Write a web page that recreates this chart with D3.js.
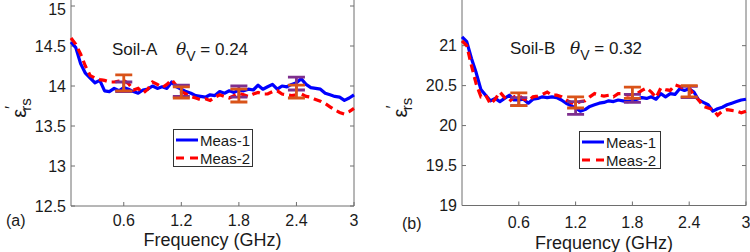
<!DOCTYPE html>
<html>
<head>
<meta charset="utf-8">
<script src="https://cdn.jsdelivr.net/npm/d3@7/dist/d3.min.js"></script>
<style>
  body { margin: 0; background: #fff; }
  svg { display: block; }
  text { font-family: "Liberation Sans", Arial, sans-serif; fill: #1a1a1a; }
</style>
</head>
<body>
<div id="chart"></div>
<script>
// frequency grid (GHz)
var freqB = [0, 0.05, 0.1, 0.15, 0.2, 0.25, 0.3, 0.35, 0.4, 0.45, 0.5, 0.55, 0.6, 0.65, 0.7, 0.75, 0.8, 0.85, 0.9, 0.95,
  1, 1.05, 1.1, 1.15, 1.2, 1.25, 1.3, 1.35, 1.4, 1.45, 1.5, 1.55, 1.6, 1.65, 1.7, 1.75, 1.8, 1.85, 1.9, 1.95,
  2, 2.05, 2.1, 2.15, 2.2, 2.25, 2.3, 2.35, 2.4, 2.45, 2.5, 2.55, 2.6, 2.65, 2.7, 2.75, 2.8, 2.85, 2.9, 2.95, 3];
var freqA = freqB.slice(1);

// Soil-A
var meas1A = [14.55, 14.48, 14.28, 14.16, 14.10, 14.04, 14.07, 13.94, 13.93, 13.97, 13.94, 13.98, 13.96, 13.93, 13.91, 13.95, 13.96, 14.00, 13.97, 13.99,
  13.97, 14.05, 13.99, 13.96, 13.93, 13.91, 13.88, 13.87, 13.86, 13.89, 13.88, 13.93, 13.91, 13.94, 13.92, 13.95, 13.94, 13.96, 13.95, 14.01,
  13.96, 13.99, 14.02, 13.96, 14.00, 13.99, 14.02, 14.04, 14.09, 14.02, 13.98, 13.97, 13.96, 13.91, 13.89, 13.87, 13.86, 13.82, 13.85, 13.89];
var meas2A = [14.60, 14.52, 14.40, 14.25, 14.13, 14.10, 14.08, 14.07, 14.05, 14.05, 14.06, 14.07, 14.03, 13.95, 13.97, 13.91, 13.96, 14.05, 14.02, 13.98,
  14.02, 14.08, 14.00, 13.93, 13.90, 13.87, 13.85, 13.83, 13.84, 13.82, 13.86, 13.89, 13.87, 13.85, 13.88, 13.91, 13.89, 13.87, 13.90, 13.92,
  13.90, 13.90, 13.93, 13.94, 13.90, 13.89, 13.88, 13.89, 13.90, 13.87, 13.86, 13.83, 13.81, 13.78, 13.74, 13.70, 13.67, 13.65, 13.68, 13.72];

// Soil-B
var meas1B = [21.11, 21.05, 20.84, 20.66, 20.45, 20.38, 20.31, 20.34, 20.30, 20.34, 20.38, 20.32, 20.32, 20.33, 20.28, 20.33, 20.34, 20.36, 20.35, 20.36,
  20.35, 20.32, 20.28, 20.25, 20.22, 20.18, 20.20, 20.24, 20.26, 20.28, 20.29, 20.31, 20.30, 20.32, 20.31, 20.30, 20.31, 20.33, 20.35, 20.34,
  20.36, 20.33, 20.40, 20.36, 20.40, 20.39, 20.46, 20.44, 20.46, 20.42, 20.32, 20.29, 20.26, 20.18, 20.21, 20.23, 20.26, 20.28, 20.30, 20.32, 20.33];
var meas2B = [21.06, 21.00, 20.75, 20.52, 20.36, 20.38, 20.27, 20.33, 20.42, 20.35, 20.30, 20.36, 20.38, 20.33, 20.31, 20.36, 20.37, 20.39, 20.42, 20.38,
  20.38, 20.36, 20.32, 20.29, 20.27, 20.30, 20.31, 20.36, 20.40, 20.38, 20.37, 20.38, 20.36, 20.40, 20.40, 20.38, 20.39, 20.40, 20.44, 20.47,
  20.42, 20.35, 20.47, 20.45, 20.44, 20.51, 20.49, 20.46, 20.47, 20.38, 20.32, 20.24, 20.22, 20.20, 20.13, 20.18, 20.20, 20.19, 20.18, 20.16, 20.18];

// error bars: mean and half-width
var errFreq = [0.6, 1.2, 1.8, 2.4];
var errMean1A = [13.99, 13.94, 13.93, 14.03], errSize1A = [0.06, 0.07, 0.07, 0.08];
var errMean2A = [14.04, 13.92, 13.88, 13.93], errSize2A = [0.10, 0.07, 0.08, 0.08];
var errMean1B = [20.30, 20.22, 20.34, 20.42], errSize1B = [0.05, 0.08, 0.05, 0.07];
var errMean2B = [20.33, 20.29, 20.41, 20.43], errSize2B = [0.08, 0.07, 0.07, 0.07];

var xTicks = [0.6, 1.2, 1.8, 2.4, 3];
var yTicksA = [12.5, 13, 13.5, 14, 14.5, 15];
var yTicksB = [19, 19.5, 20, 20.5, 21];
var seriesNames = ['Meas-1', 'Meas-2'];

var W = 750, H = 252;
var svg = d3.select('#chart').append('svg').attr('width', W).attr('height', H);

var panels = [
  { left: 71, right: 354, top: 6, bottom: 206, xDom: [0.05, 3], yDom: [12.5, 15], yTicks: yTicksA,
    freq: freqA, m1: meas1A, m2: meas2A, e1: [errMean1A, errSize1A], e2: [errMean2A, errSize2A],
    soil: 'Soil-A', theta: '0.24', tag: '(a)', tagX: 6, soilX: 112, thetaX: 176, textY: 55,
    legX: 173, legY: 129, legW: 79, labelX: 19, dy: 0 },
  { left: 462, right: 746, top: 5.7, bottom: 205.5, xDom: [0, 3], yDom: [19, 21.5], yTicks: yTicksB,
    freq: freqB, m1: meas1B, m2: meas2B, e1: [errMean1B, errSize1B], e2: [errMean2B, errSize2B],
    soil: 'Soil-B', theta: '0.32', tag: '(b)', tagX: 402, soilX: 510, thetaX: 570, textY: 54,
    legX: 579, legY: 131, legW: 81, labelX: 400, dy: 2.5 }
];

panels.forEach(function(p) {
  var x = d3.scaleLinear().domain(p.xDom).range([p.left, p.right]);
  var y = d3.scaleLinear().domain(p.yDom).range([p.bottom, p.top]);
  var g = svg.append('g');
  var axisColor = '#6e6e6e';

  // box (top cut off by the crop)
  g.append('path')
    .attr('d', 'M' + p.left + ',0V' + p.bottom + 'H' + p.right + 'V0')
    .attr('fill', 'none').attr('stroke', axisColor).attr('stroke-width', 1);

  // ticks inside, on both sides
  p.yTicks.forEach(function(t) {
    g.append('line').attr('x1', p.left).attr('x2', p.left + 4).attr('y1', y(t)).attr('y2', y(t))
      .attr('stroke', axisColor);
    g.append('line').attr('x1', p.right).attr('x2', p.right - 4).attr('y1', y(t)).attr('y2', y(t))
      .attr('stroke', axisColor);
    g.append('text').attr('x', p.left - 5).attr('y', Math.max(y(t) + 5.8, 14.5))
      .attr('text-anchor', 'end').attr('font-size', '16px').text(t);
  });
  xTicks.forEach(function(t) {
    g.append('line').attr('x1', x(t)).attr('x2', x(t)).attr('y1', p.bottom).attr('y2', p.bottom - 4)
      .attr('stroke', axisColor);
    g.append('text').attr('x', x(t)).attr('y', p.bottom + 20 + p.dy)
      .attr('text-anchor', 'middle').attr('font-size', '16px').text(t);
  });

  // labels
  g.append('text').attr('x', (p.left + p.right) / 2).attr('y', 246 + p.dy)
    .attr('text-anchor', 'middle').attr('font-size', '18px').text('Frequency (GHz)');
  g.append('text').attr('x', p.tagX).attr('y', 226 + p.dy)
    .attr('font-size', '16px').text(p.tag);

  var yl = g.append('text')
    .attr('transform', 'translate(' + (p.labelX + 7) + ',' + ((p.top + p.bottom) / 2 + 2) + ') rotate(-90)')
    .attr('text-anchor', 'middle').attr('font-size', '20px');
  yl.append('tspan').text('\u03B5');
  yl.append('tspan').attr('dy', -9).attr('font-size', '17px').text('\u2032');
  yl.append('tspan').attr('dx', -5).attr('dy', 14).attr('font-size', '15px').text('rs');

  // annotation
  g.append('text').attr('x', p.soilX).attr('y', p.textY).attr('font-size', '17px').text(p.soil);
  var th = g.append('text').attr('x', p.thetaX).attr('y', p.textY).attr('font-size', '17px');
  th.append('tspan').attr('font-family', 'DejaVu Serif').attr('font-style', 'italic').text('\u03B8');
  th.append('tspan').attr('dy', 6).attr('font-size', '14px').text('V');
  th.append('tspan').attr('dy', -6).text(' = ' + p.theta);

  // curves
  var line = d3.line().x(function(d) { return x(d[0]); }).y(function(d) { return y(d[1]); });
  g.append('path').datum(d3.zip(p.freq, p.m1)).attr('d', line)
    .attr('fill', 'none').attr('stroke', '#0000ff').attr('stroke-width', 3.2).attr('stroke-linejoin', 'round');
  g.append('path').datum(d3.zip(p.freq, p.m2)).attr('d', line)
    .attr('fill', 'none').attr('stroke', '#ff0000').attr('stroke-width', 3.2).attr('stroke-dasharray', '8,5');

  // error bars: Meas-1 purple, Meas-2 orange on top
  [[p.e1, '#7e2f8e'], [p.e2, '#d95319']].forEach(function(s) {
    var bars = d3.zip(errFreq, s[0][0], s[0][1]);
    var eg = g.append('g').attr('stroke', s[1]).attr('stroke-width', 2.8).attr('fill', 'none');
    eg.selectAll('path').data(bars).enter().append('path')
      .attr('d', function(d) {
        var cx = x(d[0]), y1 = y(d[1] + d[2]), y2 = y(d[1] - d[2]), hw = 8.5;
        return 'M' + (cx - hw) + ',' + y1 + 'H' + (cx + hw) + 'M' + cx + ',' + y1 + 'V' + y2 +
          'M' + (cx - hw) + ',' + y2 + 'H' + (cx + hw);
      });
  });

  // legend
  var lg = g.append('g').attr('transform', 'translate(' + p.legX + ',' + p.legY + ')');
  lg.append('rect').attr('x', 0.5).attr('y', 0.5).attr('width', p.legW).attr('height', 37)
    .attr('fill', '#fff').attr('stroke', '#333').attr('stroke-width', 1);
  seriesNames.forEach(function(name, i) {
    var ly = 11 + i * 18;
    lg.append('line').attr('x1', 3).attr('x2', 25).attr('y1', ly).attr('y2', ly)
      .attr('stroke', i ? '#ff0000' : '#0000ff').attr('stroke-width', 3)
      .attr('stroke-dasharray', i ? '8,6' : null);
    lg.append('text').attr('x', 27).attr('y', ly + 5.5).attr('font-size', '15px').text(name);
  });
});
</script>
</body>
</html>
